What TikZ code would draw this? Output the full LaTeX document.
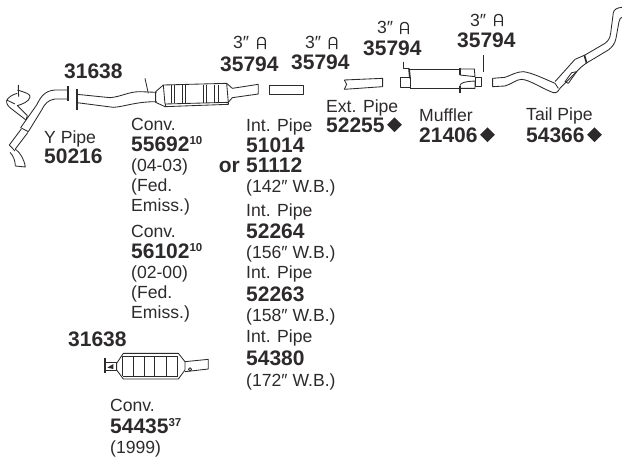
\documentclass[tikz,border=0pt]{standalone}
\usepackage{fontspec}
\setmainfont{Liberation Sans}
\usepackage{xcolor}
\definecolor{clrInk}{RGB}{45,42,43}
\usetikzlibrary{positioning,shapes.geometric}

\newcommand{\supnum}[1]{\raisebox{6.5pt}{\fontsize{11.5}{12}\selectfont #1}}

\begin{document}
\begin{tikzpicture}[
  x=1pt, y=-1pt,
  %--- node styles ---------------------------------------------------
  txtst/.style  = {anchor=base west, inner sep=0pt, text=clrInk,
                   font=\fontsize{17.6}{20}\selectfont},
  numst/.style  = {anchor=base west, inner sep=0pt, text=clrInk,
                   font=\fontsize{21}{24}\selectfont\bfseries},
  dmdst/.style  = {diamond, fill=clrInk, inner sep=0pt, minimum size=15pt,
                   anchor=west},
  pipe/.style   = {draw=clrInk, line width=0.85pt, line join=round, fill=none},
  heavy/.style  = {draw=clrInk, line width=1.7pt},
  clamp/.pic    = {\draw[draw=clrInk, line width=1.2pt, rounded corners=3pt]
                     (-3.8,6) -- (-3.8,-5.5) -- (3.8,-5.5) -- (3.8,6);
                   \draw[draw=clrInk, line width=1.2pt] (-3.8,1.5) -- (3.8,1.5);},
]
\useasboundingbox (0,0) rectangle (622,459);

% ---- Labels -------------------------------------------------------
\node[numst] (clampa) at (64,78) {31638};
\node[txtst] (ypipe) at (44,143) {Y Pipe};
\node[numst, below=20pt of ypipe.base west, anchor=base west] (ynum) {50216};

\node[txtst] (conva) at (131,130) {Conv.};
\node[numst, below=21pt of conva.base west, anchor=base west] (convanum) {55692\supnum{10}};
\node[txtst, below=20pt of convanum.base west, anchor=base west] (convayr) {(04-03)};
\node[txtst, below=20pt of convayr.base west, anchor=base west] (convafed) {(Fed.};
\node[txtst, below=20pt of convafed.base west, anchor=base west] (convaem) {Emiss.)};
\node[txtst, below=26pt of convaem.base west, anchor=base west] (convb) {Conv.};
\node[numst, below=21pt of convb.base west, anchor=base west] (convbnum) {56102\supnum{10}};
\node[txtst, below=20pt of convbnum.base west, anchor=base west] (convbyr) {(02-00)};
\node[txtst, below=20pt of convbyr.base west, anchor=base west] (convbfed) {(Fed.};
\node[txtst, below=20pt of convbfed.base west, anchor=base west] (convbem) {Emiss.)};

\node[numst] (clampb) at (68,346) {31638};
\node[txtst] (convc) at (110,411) {Conv.};
\node[numst, below=22pt of convc.base west, anchor=base west] (convcnum) {54435\supnum{37}};
\node[txtst, below=20pt of convcnum.base west, anchor=base west] (convcyr) {(1999)};

\node[txtst] (inta) at (246,131) {Int. Pipe};
\node[numst, below=21pt of inta.base west, anchor=base west] (intanum) {51014};
\node[numst, below=20pt of intanum.base west, anchor=base west] (intaalt) {51112};
\node[numst, left=6pt of intaalt.base west, anchor=base east] (intaor) {or};
\node[txtst, below=20pt of intaalt.base west, anchor=base west] (intawb) {(142″ W.B.)};
\node[txtst, below=24pt of intawb.base west, anchor=base west] (intb) {Int. Pipe};
\node[numst, below=22pt of intb.base west, anchor=base west] (intbnum) {52264};
\node[txtst, below=20pt of intbnum.base west, anchor=base west] (intbwb) {(156″ W.B.)};
\node[txtst, below=20pt of intbwb.base west, anchor=base west] (intc) {Int. Pipe};
\node[numst, below=23pt of intc.base west, anchor=base west] (intcnum) {52263};
\node[txtst, below=20pt of intcnum.base west, anchor=base west] (intcwb) {(158″ W.B.)};
\node[txtst, below=21pt of intcwb.base west, anchor=base west] (intd) {Int. Pipe};
\node[numst, below=23pt of intd.base west, anchor=base west] (intdnum) {54380};
\node[txtst, below=21pt of intdnum.base west, anchor=base west] (intdwb) {(172″ W.B.)};

\node[txtst] (exta) at (326,112) {Ext. Pipe};
\node[numst, below=20pt of exta.base west, anchor=base west] (extnum) {52255};
\node[dmdst, right=2pt of extnum.east, anchor=west] (extdmd) {};

\node[txtst] (muff) at (419,121) {Muffler};
\node[numst, below=21pt of muff.base west, anchor=base west] (muffnum) {21406};
\node[dmdst, right=2pt of muffnum.east, anchor=west] (muffdmd) {};

\node[txtst] (tail) at (526,120) {Tail Pipe};
\node[numst, below=22pt of tail.base west, anchor=base west] (tailnum) {54366};
\node[dmdst, right=2pt of tailnum.east, anchor=west] (taildmd) {};

% ---- Clamp sizes --------------------------------------------------
\node[numst] (hanga) at (220,71) {35794};
\node[txtst] (sizea) at (233,48) {3″};
\pic at (261.5,43) {clamp};
\node[numst] (hangb) at (291,69) {35794};
\node[txtst] (sizeb) at (305,48) {3″};
\pic at (333,43) {clamp};
\node[numst] (hangc) at (363,55) {35794};
\node[txtst] (sizec) at (377,33) {3″};
\pic at (404.5,28) {clamp};
\node[numst] (hangd) at (457,47) {35794};
\node[txtst] (sized) at (470,26) {3″};
\pic at (498.5,20) {clamp};

% ---- Y pipe -------------------------------------------------------
\begin{scope}[x=0.3333pt, y=-0.3333pt, shift={(0pt,-85pt)}]
  \draw[pipe] (203,15) -- (165,15) .. controls (135,17) and (122,35) .. (110,60) -- (62,128);
  \draw[pipe] (203,42) -- (165,42) .. controls (145,45) and (135,55) .. (125,75) -- (85,140);
  \draw[pipe] (62,128) -- (85,140);
  \draw[pipe] (64,132) -- (28,180) -- (45,198);
  \draw[pipe] (84,142) -- (46,192) .. controls (62,205) and (72,222) .. (76,246) -- (46,243)
     .. controls (46,228) and (40,212) .. (30,202);
  \draw[pipe] (78,105) -- (35,72) .. controls (25,65) and (18,55) .. (20,48)
     .. controls (22,38) and (38,28) .. (52,25);
  \draw[pipe] (20,45) -- (45,57);
  \draw[pipe] (82,92) -- (52,62) .. controls (65,58) and (88,50) .. (90,36)
     .. controls (90,28) and (85,25) .. (52,15);
  \draw[pipe] (55,0) -- (56,35);
  \draw[pipe] (78,105) -- (82,92);
  \draw[heavy] (203,4) -- (203,49);
\end{scope}

% ---- Front pipe ---------------------------------------------------
\begin{scope}[x=0.3333pt, y=-0.3333pt, shift={(0pt,-50pt)}]
  \draw[heavy] (231,118) -- (231,180);
  \draw[pipe] (231,133) -- (330,143) .. controls (365,140) and (385,125) .. (420,125) -- (470,127);
  \draw[pipe] (231,158) -- (340,172) .. controls (375,170) and (405,155) .. (470,155);
  \draw[pipe] (435,85) -- (445,130);
\end{scope}

% ---- Main converter -----------------------------------------------
\begin{scope}[x=0.3333pt, y=-0.3333pt, shift={(145pt,-70pt)}]
  \draw[pipe] (32,65) -- (55,45) -- (245,40) -- (262,55) -- (340,43) -- (340,72) -- (262,83) -- (250,97);
  \draw[pipe] (32,65) -- (32,97) -- (60,110) -- (250,103) -- (250,97) -- (60,102) -- (55,45);
  \draw[pipe] (60,102) -- (60,110);
  \draw[pipe] (245,40) -- (250,97);
  \foreach \xa in {78,88,112,120,175,185,208,220}
    \draw[pipe] (\xa,44) -- (\xa,100);
\end{scope}

% ---- Int and ext pipe ---------------------------------------------
\begin{scope}[x=0.3333pt, y=-0.3333pt, shift={(210pt,0pt)}]
  \draw[pipe] (177,255) rectangle (280,283);
  \draw[pipe] (403,240) -- (518,235) -- (518,260) -- (403,268) -- (410,253) -- cycle;
\end{scope}

% ---- Muffler ------------------------------------------------------
\begin{scope}[x=0.3333pt, y=-0.3333pt, shift={(395pt,-55pt)}]
  \draw[pipe] (17,68) rectangle (45,97);
  \draw[pipe] (25,20) -- (25,40) -- (42,40);
  \draw[heavy] (42,40) -- (45,70);
  \draw[pipe] (45,42) -- (195,42) (45,100) -- (195,100);
  \draw[pipe] (45,70) -- (45,100);
  \draw[heavy] (195,38) -- (195,60);
  \draw[pipe] (195,42) -- (238,42) -- (240,65) -- (195,60);
  \draw[heavy] (195,115) -- (195,92);
  \draw[pipe] (195,92) .. controls (197,84) and (205,80) .. (240,78) -- (240,100) -- (195,100);
  \draw[pipe] (240,68) rectangle (260,95);
  \draw[pipe] (265,0) -- (265,52);
\end{scope}

% ---- Tail pipe ----------------------------------------------------
\begin{scope}[x=0.3333pt, y=-0.3333pt, shift={(390pt,0pt)}]
  \draw[pipe] (345,232) -- (308,235) -- (308,260) -- (345,258);
  \draw[pipe] (345,232) .. controls (365,225) and (380,215) .. (400,215)
     .. controls (425,218) and (460,235) .. (495,250) -- (505,265);
  \draw[pipe] (345,258) .. controls (365,252) and (380,238) .. (395,238)
     .. controls (420,240) and (455,265) .. (490,278) .. controls (500,280) and (508,272) .. (510,265);
\end{scope}
\begin{scope}[x=0.3333pt, y=-0.3333pt, shift={(540pt,0pt)}]
  \draw[pipe] (45,245) -- (105,178) -- (135,165);
  \draw[pipe] (60,265) -- (125,200) -- (138,190);
  \draw[pipe] (75,245) -- (95,218) -- (110,215) -- (85,250) -- cycle;
  \draw[heavy] (133,165) -- (140,190);
  \draw[pipe] (135,165) -- (195,130) .. controls (205,122) and (210,115) .. (212,100)
     -- (220,38) .. controls (222,28) and (232,23) .. (246,22);
  \draw[pipe] (138,190) -- (205,150) .. controls (218,140) and (225,130) .. (228,115)
     -- (237,65) .. controls (239,56) and (242,53) .. (246,52);
\end{scope}

% ---- Lower converter ----------------------------------------------
\begin{scope}[x=0.3333pt, y=-0.3333pt, shift={(60pt,-320pt)}]
  \draw[heavy] (135,115) -- (135,160);
  \draw[pipe] (135,128) rectangle (168,150);
  \fill[clrInk] (142,143) -- (160,132) -- (160,147) -- cycle;
  \draw[pipe] (170,130) -- (190,100) -- (355,100) -- (375,125) -- (375,150) -- (355,177) -- (190,177) -- (170,150) -- cycle;
  \draw[pipe] (190,108) -- (355,108) (190,168) -- (355,168);
  \foreach \xa in {188,220,253,283,320,352}
    \draw[pipe] (\xa,108) -- (\xa,168);
  \draw[pipe] (375,125) -- (445,118) -- (445,147) -- (375,155);
  \draw[pipe] (390,148) circle (5);
\end{scope}

\end{tikzpicture}
\end{document}
